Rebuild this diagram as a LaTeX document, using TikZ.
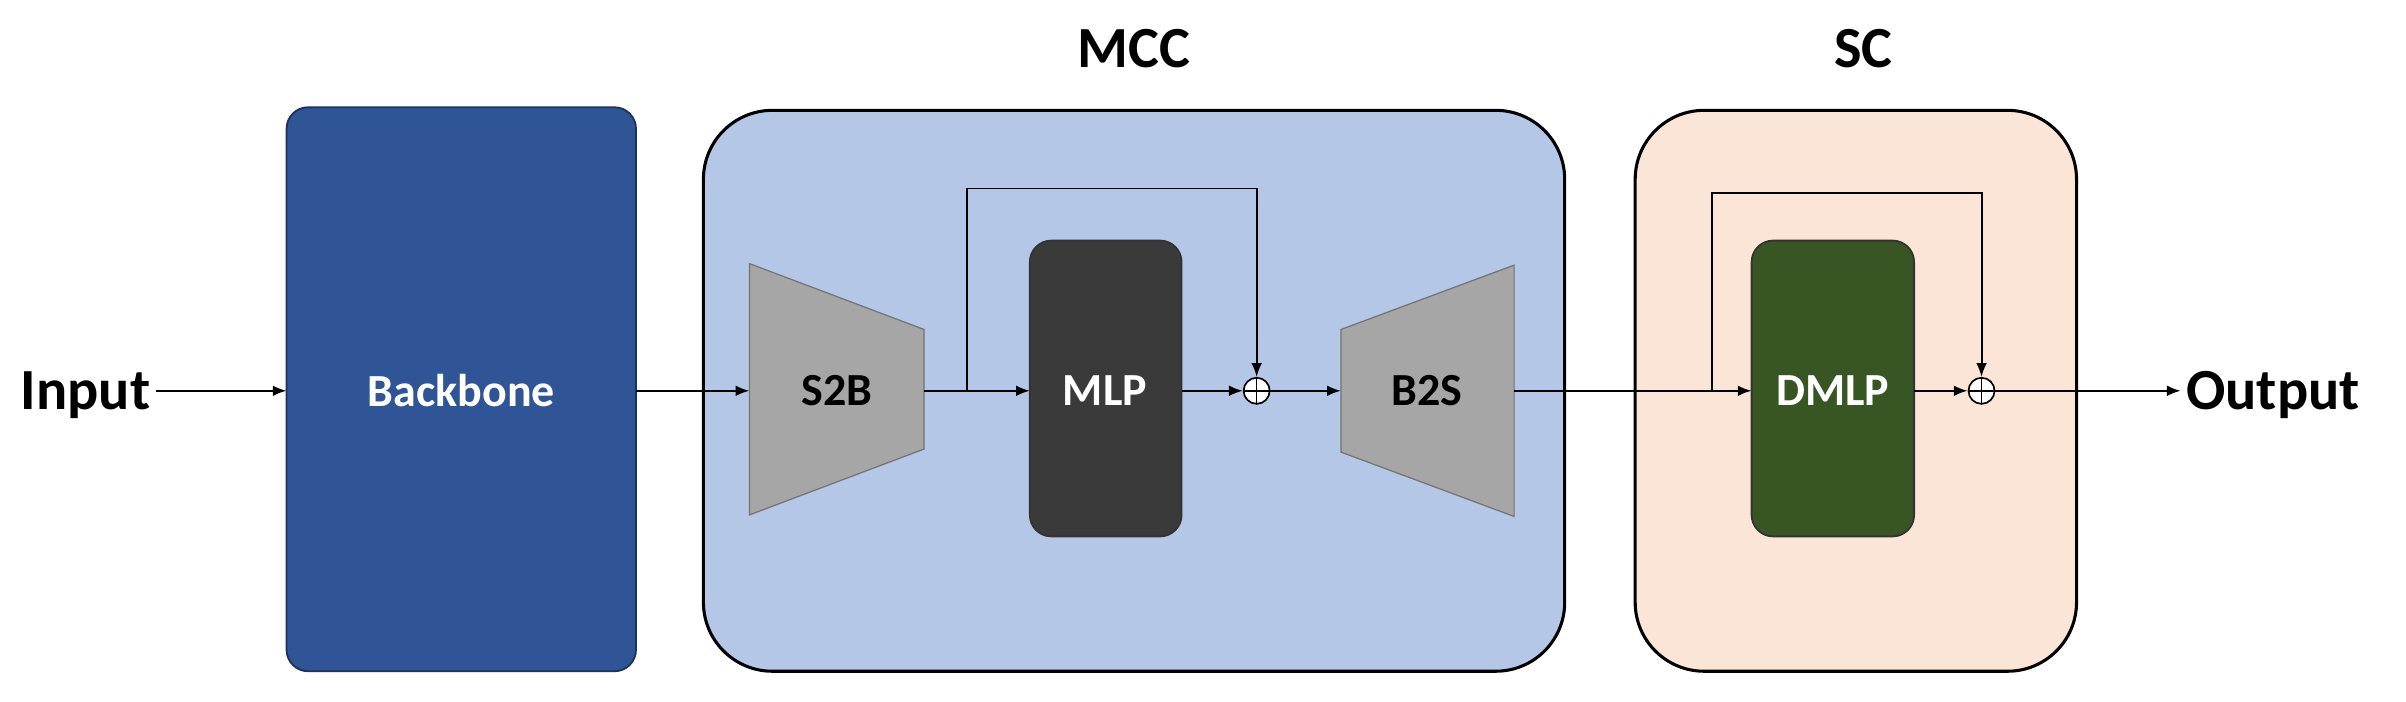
\documentclass[tikz,border=0pt]{standalone}
\usepackage{fontspec}
\setmainfont{Carlito}
\usetikzlibrary{arrows.meta}
\begin{document}
\begin{tikzpicture}[x=1pt,y=-1pt,
  blk/.style={draw=black!80,line width=1.2pt,rounded corners=14pt},
  big/.style={draw=black,line width=2pt,rounded corners=45pt},
  lab/.style={font=\fontsize{30}{36}\selectfont\bfseries},
  tlab/.style={font=\fontsize{38}{44}\selectfont\bfseries},
  ar/.style={-{Latex[length=9pt,width=7pt]},line width=1.3pt},
  ln/.style={line width=1.3pt},
  trap/.style={fill=black!35,draw=black!55,line width=0.8pt},
  plus/.style={circle,draw,line width=1.1pt,minimum size=17pt,inner sep=0pt,fill=white}]
\useasboundingbox (0,0) rectangle (1570,458);
\draw[blk,fill={rgb,255:red,47;green,85;blue,151},draw={rgb,255:red,30;green,50;blue,90}] (187,70) rectangle (415,438);
\node[lab,text=white] (bb) at (301,255) {Backbone};
\draw[big,fill={rgb,255:red,180;green,199;blue,231}] (459,72) rectangle (1021,438);
\node[tlab] (mcc) at (740,32) {MCC};
\draw[big,fill={rgb,255:red,251;green,229;blue,214}] (1067,72) rectangle (1355,438);
\node[tlab] (sc) at (1216,32) {SC};
\draw[trap] (489,172) -- (603,215) -- (603,293) -- (489,336) -- cycle;
\node[lab] (s2b) at (546,255) {S2B};
\draw[trap] (875,215) -- (988,173) -- (988,337) -- (875,295) -- cycle;
\node[lab] (b2s) at (931,255) {B2S};
\draw[blk,fill={rgb,255:red,58;green,58;blue,58}] (672,157) rectangle (771,350);
\node[lab,text=white] (mlp) at (721,255) {MLP};
\draw[blk,fill={rgb,255:red,55;green,86;blue,35}] (1143,157) rectangle (1249,350);
\node[lab,text=white] (dmlp) at (1196,255) {DMLP};
\node[plus] (p1) at (820,255) {};
\draw[line width=1pt] (p1.north)--(p1.south) (p1.west)--(p1.east);
\node[plus] (p2) at (1293,255) {};
\draw[line width=1pt] (p2.north)--(p2.south) (p2.west)--(p2.east);
\node[tlab,anchor=west] (in) at (10,258) {Input};
\node[tlab,anchor=west] (out) at (1423,258) {Output};
\coordinate (s1) at (631,255);
\coordinate (s2) at (1117,255);
\draw[ar] (in.east)++(0,-3) -- (187,255);
\draw[ar] (415,255) -- (489,255);
\draw[ar] (603,255) -- (672,255);
\draw[ar] (771,255) -- (p1.west);
\draw[ar] (p1.east) -- (875,255);
\draw[ar] (988,255) -- (1143,255);
\draw[ar] (1249,255) -- (p2.west);
\draw[ar] (p2.east) -- (out.west|-0,255);
\draw[ar] (s1) -- (631,123) -- (820,123) -- (p1.north);
\draw[ar] (s2) -- (1117,126) -- (1293,126) -- (p2.north);
\end{tikzpicture}
\end{document}
